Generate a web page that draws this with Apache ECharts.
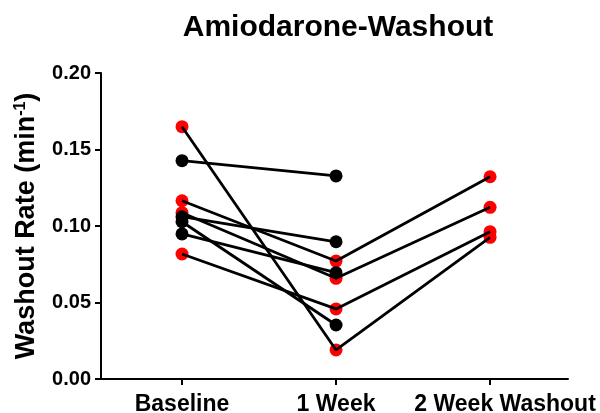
<!DOCTYPE html>
<html>
<head>
<meta charset="utf-8">
<script src="https://cdn.jsdelivr.net/npm/echarts@6/dist/echarts.min.js"></script>
<style>
html,body{margin:0;padding:0;background:#fff;}
#chart{width:600px;height:413px;}
</style>
</head>
<body>
<div id="chart"></div>
<script>
const categories = ['Baseline', '1 Week', '2 Week Washout'];
const yTicks = [0, 0.05, 0.10, 0.15, 0.20];

// Subjects measured at all three time points (red markers)
const redSubject1 = [0.1649, 0.0190, 0.0926];
const redSubject2 = [0.1165, 0.0771, 0.1322];
const redSubject3 = [0.1087, 0.0658, 0.1122];
const redSubject4 = [0.0817, 0.0458, 0.0963];

// Subjects measured at baseline and 1 week only (black markers)
const blackSubject1 = [0.1427, 0.1327];
const blackSubject2 = [0.1061, 0.0897];
const blackSubject3 = [0.1028, 0.0353];
const blackSubject4 = [0.0948, 0.0695];

const redSubjects = [redSubject1, redSubject2, redSubject3, redSubject4];
const blackSubjects = [blackSubject1, blackSubject2, blackSubject3, blackSubject4];

const FONT = "'Liberation Sans', Arial, Helvetica, sans-serif";
const catIdx = categories.map((c, i) => i);

function toPoints(list) {
  const pts = [];
  list.forEach(s => s.forEach((v, i) => pts.push([i, v])));
  return pts;
}

const series = [
  {
    type: 'scatter', z: 2, symbol: 'circle', symbolSize: 13,
    itemStyle: { color: '#ff0000', opacity: 1 },
    data: toPoints(redSubjects), silent: true
  },
  {
    type: 'scatter', z: 3, symbol: 'circle', symbolSize: 13,
    itemStyle: { color: '#000000', opacity: 1 },
    data: toPoints(blackSubjects), silent: true
  }
];
redSubjects.concat(blackSubjects).forEach(s => {
  series.push({
    type: 'line', z: 4, symbol: 'none', silent: true,
    lineStyle: { color: '#000', width: 2.8 },
    data: s.map((v, i) => [i, v])
  });
});

const chart = echarts.init(document.getElementById('chart'), null, { renderer: 'canvas' });
chart.setOption({
  animation: false,
  backgroundColor: '#fff',
  title: {
    text: 'Amiodarone-Washout',
    left: 333, top: 8, textAlign: 'center',
    textStyle: { fontFamily: FONT, fontSize: 30, fontWeight: 'bold', color: '#000' }
  },
  grid: { left: 101, right: 32, top: 73, bottom: 34, containLabel: false, outerBoundsMode: 'none' },
  xAxis: {
    type: 'value', min: -0.526, max: 2.506,
    axisLine: { show: true, onZero: false, lineStyle: { color: '#000', width: 2 } },
    axisTick: { show: true, customValues: catIdx, length: 6, lineStyle: { color: '#000', width: 2 } },
    axisLabel: {
      customValues: catIdx, margin: 14, color: '#000', fontFamily: FONT, fontSize: 23, fontWeight: 'bold',
      formatter: (v) => {
        const i = Math.round(v);
        return i === categories.length - 1 ? '{last|' + categories[i] + '}' : categories[i];
      },
      rich: { last: { padding: [0, 0, 0, 30], fontFamily: FONT, fontSize: 23, fontWeight: 'bold', color: '#000' } }
    },
    splitLine: { show: false }
  },
  yAxis: {
    type: 'value', min: yTicks[0], max: yTicks[yTicks.length - 1], interval: 0.05,
    axisLine: { show: true, onZero: false, lineStyle: { color: '#000', width: 2 } },
    axisTick: { show: true, length: 6, lineStyle: { color: '#000', width: 2 } },
    axisLabel: {
      margin: 10, color: '#000', fontFamily: FONT, fontSize: 20, fontWeight: 'bold',
      formatter: v => v.toFixed(2)
    },
    splitLine: { show: false },
    name: '{a|Washout Rate (min}{s|-1}{a|)}',
    nameLocation: 'middle', nameRotate: 90, nameGap: 58,
    nameTextStyle: {
      rich: {
        a: { fontFamily: FONT, fontSize: 27, fontWeight: 'bold', color: '#000', lineHeight: 32 },
        s: { fontFamily: FONT, fontSize: 16, fontWeight: 'bold', color: '#000', lineHeight: 32, padding: [0, 0, 13, 0] }
      }
    }
  },
  series: series
});
</script>
</body>
</html>
